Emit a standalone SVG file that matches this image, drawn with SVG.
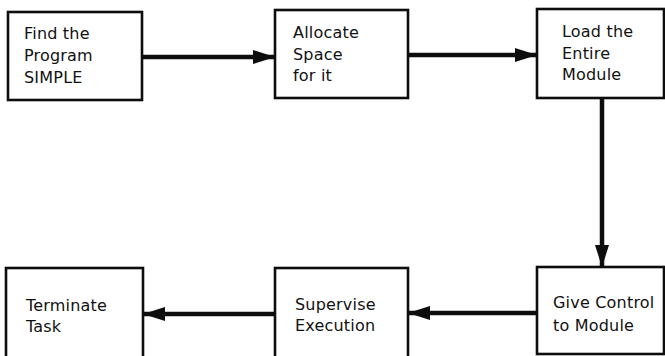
<svg xmlns="http://www.w3.org/2000/svg" width="665" height="356" viewBox="0 0 665 356">
  <style>
    .box { fill: #ffffff; stroke: #0d0d0d; stroke-width: 2.6; }
    .lbl { font-family: "DejaVu Sans", "Liberation Sans", sans-serif; font-size: 16px; fill: #111111; letter-spacing: 0.2px; }
    .flow { stroke: #0d0d0d; stroke-width: 4.5; fill: none; }
  </style>
  <defs>
    <marker id="head" markerUnits="userSpaceOnUse" markerWidth="23" markerHeight="15" refX="22" refY="7" orient="auto" viewBox="0 0 23 15">
      <polygon points="0,0 22,7 0,14" fill="#0d0d0d"/>
    </marker>
  </defs>
  <rect width="665" height="356" fill="#ffffff"/>

  <g id="connectors">
    <line class="flow" x1="143" y1="57" x2="275" y2="57" marker-end="url(#head)"/>
    <line class="flow" x1="408" y1="55" x2="537" y2="55" marker-end="url(#head)"/>
    <line class="flow" x1="602" y1="98" x2="602" y2="267" marker-end="url(#head)"/>
    <line class="flow" x1="537" y1="313" x2="408" y2="313" marker-end="url(#head)"/>
    <line class="flow" x1="275" y1="314" x2="143" y2="314" marker-end="url(#head)"/>
  </g>

  <g id="find-program">
    <rect class="box" x="8" y="12" width="134" height="88"/>
    <text class="lbl" x="24" y="39">Find the</text>
    <text class="lbl" x="24" y="61">Program</text>
    <text class="lbl" x="24" y="83">SIMPLE</text>
  </g>

  <g id="allocate-space">
    <rect class="box" x="275" y="10" width="133" height="88"/>
    <text class="lbl" x="293" y="38">Allocate</text>
    <text class="lbl" x="293" y="60">Space</text>
    <text class="lbl" x="293" y="81">for it</text>
  </g>

  <g id="load-module">
    <rect class="box" x="537" y="9" width="127" height="89"/>
    <text class="lbl" x="562" y="37">Load the</text>
    <text class="lbl" x="562" y="59">Entire</text>
    <text class="lbl" x="562" y="80">Module</text>
  </g>

  <g id="give-control">
    <rect class="box" x="537" y="267" width="127" height="87"/>
    <text class="lbl" x="553" y="308">Give Control</text>
    <text class="lbl" x="553" y="331">to Module</text>
  </g>

  <g id="supervise-execution">
    <rect class="box" x="275" y="268" width="133" height="95"/>
    <text class="lbl" x="295" y="310">Supervise</text>
    <text class="lbl" x="295" y="331">Execution</text>
  </g>

  <g id="terminate-task">
    <rect class="box" x="6" y="268" width="137" height="95"/>
    <text class="lbl" x="26" y="311">Terminate</text>
    <text class="lbl" x="26" y="332">Task</text>
  </g>
</svg>
